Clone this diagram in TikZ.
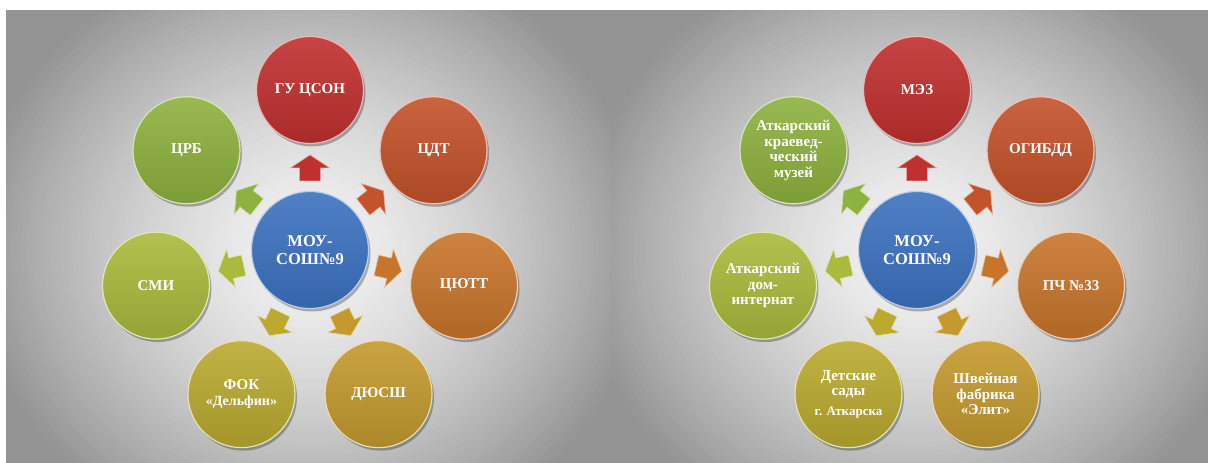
\documentclass[tikz,border=0pt]{standalone}
\usepackage{fontspec}
\setmainfont{Liberation Serif}
\usetikzlibrary{calc,shadows}
\definecolor{cRed}{HTML}{C0302F}
\definecolor{cOrR}{HTML}{C4522A}
\definecolor{cOr}{HTML}{C8752B}
\definecolor{cGold}{HTML}{C49A2E}
\definecolor{cOlive}{HTML}{BBAA30}
\definecolor{cYG}{HTML}{AABA3C}
\definecolor{cGreen}{HTML}{8DB23E}
\definecolor{cBlue}{HTML}{3C72C0}
\tikzset{
  bubble/.style={circle, minimum size=107pt, inner sep=0pt, align=center, text=white,
    font=\bfseries\fontsize{15}{15.5}\selectfont,
    top color=#1!90!white, bottom color=#1!88!black,
    draw=#1!35!white, line width=1.2pt,
    drop shadow={shadow xshift=2pt, shadow yshift=-3pt, opacity=0.28, fill=black}},
  hub/.style={bubble=cBlue, minimum size=117pt, font=\bfseries\fontsize{16.5}{17.5}\selectfont},
  pics/blockarrow/.style={code={
    \fill[#1, draw=#1!45!white, line width=0.6pt] (-13,-10.5) -- (0,-10.5) -- (0,-19.5) -- (13,0) -- (0,19.5) -- (0,10.5) -- (-13,10.5) -- cycle;}}
}
\begin{document}
\begin{tikzpicture}[x=1pt,y=1pt]
\useasboundingbox (0,0) rectangle (1208,463);
\fill[black!42] (0,0) rectangle (1208,463);
\begin{scope}
\clip (6,0) rectangle (611,453);
\foreach \k in {0,...,59}{
  \pgfmathsetmacro\f{1-\k/60}
  \pgfmathsetmacro\q{5+37*\f^1.5}
  \fill[black!\q] (310,213) ellipse ({340*\f} and {310*\f});
}
\end{scope}
\begin{scope}
\clip (611,0) rectangle (1208,453);
\foreach \k in {0,...,59}{
  \pgfmathsetmacro\f{1-\k/60}
  \pgfmathsetmacro\q{5+37*\f^1.5}
  \fill[black!\q] (917,213) ellipse ({340*\f} and {310*\f});
}
\end{scope}
\fill[white] (0,453) rectangle (1208,463);
\fill[white] (0,0) rectangle (6,463);

% ---------- left panel ----------
\coordinate (C) at (310,213);
\node[hub] (c) at (C) {МОУ-\\СОШ№9};
\node[bubble=cRed]    (g1) at ($(C)+(90:158 and 160)$)      {ГУ ЦСОН};
\node[bubble=cOrR]    (g2) at ($(C)+(38.57:158 and 160)$)   {ЦДТ};
\node[bubble=cOr]     (g3) at ($(C)+(-12.86:158 and 160)$)  {ЦЮТТ};
\node[bubble=cGold]   (g4) at ($(C)+(-64.29:158 and 160)$)  {ДЮСШ};
\node[bubble=cOlive]  (g5) at ($(C)+(-115.71:158 and 160)$) {ФОК\\{\fontsize{14}{14}\selectfont «Дельфин»}};
\node[bubble=cYG]     (g6) at ($(C)+(192.86:158 and 160)$)  {СМИ};
\node[bubble=cGreen]  (g7) at ($(C)+(141.43:158 and 160)$)  {ЦРБ};
\pic[rotate=90]      at ($(c.center)!0.513!(g1.center)$) {blockarrow=cRed};
\pic[rotate=38.57]   at ($(c.center)!0.513!(g2.center)$) {blockarrow=cOrR};
\pic[rotate=-12.86]  at ($(c.center)!0.513!(g3.center)$) {blockarrow=cOr};
\pic[rotate=-64.29]  at ($(c.center)!0.513!(g4.center)$) {blockarrow=cGold};
\pic[rotate=-115.71] at ($(c.center)!0.513!(g5.center)$) {blockarrow=cOlive};
\pic[rotate=192.86]  at ($(c.center)!0.513!(g6.center)$) {blockarrow=cYG};
\pic[rotate=141.43]  at ($(c.center)!0.513!(g7.center)$) {blockarrow=cGreen};

% ---------- right panel ----------
\coordinate (D) at (917,213);
\node[hub] (d) at (D) {МОУ-\\СОШ№9};
\node[bubble=cRed]    (h1) at ($(D)+(90:158 and 160)$)      {МЭЗ};
\node[bubble=cOrR]    (h2) at ($(D)+(38.57:158 and 160)$)   {ОГИБДД};
\node[bubble=cOr]     (h3) at ($(D)+(-12.86:158 and 160)$)  {ПЧ №33};
\node[bubble=cGold]   (h4) at ($(D)+(-64.29:158 and 160)$)  {Швейная\\фабрика\\«Элит»};
\node[bubble=cOlive]  (h5) at ($(D)+(-115.71:158 and 160)$) {Детские\\сады\\[4pt]{\fontsize{13}{13}\selectfont г. Аткарска}};
\node[bubble=cYG]     (h6) at ($(D)+(192.86:158 and 160)$)  {Аткарский\\дом-\\интернат};
\node[bubble=cGreen]  (h7) at ($(D)+(141.43:158 and 160)$)  {Аткарский\\краевед-\\ческий\\музей};
\pic[rotate=90]      at ($(d.center)!0.513!(h1.center)$) {blockarrow=cRed};
\pic[rotate=38.57]   at ($(d.center)!0.513!(h2.center)$) {blockarrow=cOrR};
\pic[rotate=-12.86]  at ($(d.center)!0.513!(h3.center)$) {blockarrow=cOr};
\pic[rotate=-64.29]  at ($(d.center)!0.513!(h4.center)$) {blockarrow=cGold};
\pic[rotate=-115.71] at ($(d.center)!0.513!(h5.center)$) {blockarrow=cOlive};
\pic[rotate=192.86]  at ($(d.center)!0.513!(h6.center)$) {blockarrow=cYG};
\pic[rotate=141.43]  at ($(d.center)!0.513!(h7.center)$) {blockarrow=cGreen};
\end{tikzpicture}
\end{document}
